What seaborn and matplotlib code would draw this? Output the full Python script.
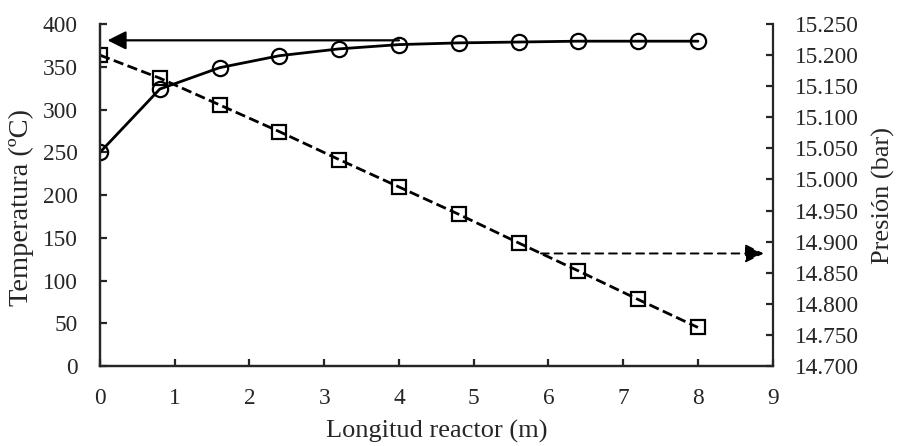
import matplotlib.pyplot as plt
import matplotlib.ticker as mticker
import seaborn as sns

# datos
longitud = [0.0, 0.8, 1.6, 2.4, 3.2, 4.0, 4.8, 5.6, 6.4, 7.2, 8.0]
temperatura = [250, 324, 349, 363, 371, 376, 378, 379, 380, 380, 380]
presion = [15.200, 15.163, 15.120, 15.077, 15.032, 14.988,
           14.944, 14.898, 14.853, 14.807, 14.762]

x_ticks = list(range(0, 10))
t_ticks = list(range(0, 401, 50))
p_ticks = [14.70, 14.75, 14.80, 14.85, 14.90, 14.95, 15.00, 15.05, 15.10, 15.15, 15.20, 15.25]

sns.set_style("ticks")
plt.rcParams['font.family'] = ['Liberation Serif', 'DejaVu Serif']

fig, ax = plt.subplots(figsize=(8.97, 4.46), dpi=100)
fig.subplots_adjust(left=0.1115, right=0.8614, top=0.946, bottom=0.1794)

sns.lineplot(x=longitud, y=temperatura, ax=ax, color='black', lw=2.0,
             marker='o', markersize=11, markerfacecolor='none',
             markeredgecolor='black', markeredgewidth=1.6)

ax2 = ax.twinx()
sns.lineplot(x=longitud, y=presion, ax=ax2, color='black', lw=2.0,
             linestyle='--', dashes=(3.0, 1.8),
             marker='s', markersize=10, markerfacecolor='none',
             markeredgecolor='black', markeredgewidth=1.6)

ax.set_xlim(0, 9)
ax.set_ylim(0, 400)
ax2.set_ylim(14.70, 15.25)
ax.set_xticks(x_ticks)
ax.set_yticks(t_ticks)
ax2.set_yticks(p_ticks)
ax2.yaxis.set_major_formatter(mticker.FormatStrFormatter('%.3f'))

for a in (ax, ax2):
    a.spines['top'].set_visible(False)
    for s in a.spines.values():
        s.set_linewidth(1.6)
    a.tick_params(direction='in', length=5, width=1.6, labelsize=16.8, pad=16)
ax.spines['right'].set_visible(False)

ax.set_xlabel('Longitud reactor (m)', fontsize=19, labelpad=8)
ax.set_ylabel('Temperatura (ºC)', fontsize=20.5)
ax.yaxis.set_label_coords(-0.098, 0.465)
ax2.set_ylabel('Presión (bar)', fontsize=19, labelpad=9)

# flechas indicando el eje de cada serie
ax.annotate('', xy=(0.1, 381), xytext=(4.0, 381),
            arrowprops=dict(arrowstyle='-|>', mutation_scale=28, lw=1.6,
                            color='black', shrinkA=0, shrinkB=0))
ax2.annotate('', xy=(8.88, 14.881), xytext=(5.9, 14.881),
             arrowprops=dict(arrowstyle='-|>', mutation_scale=28, lw=1.4,
                             linestyle=(0, (4, 3)), color='black',
                             shrinkA=0, shrinkB=0))

fig.savefig('out.png', dpi=100)
